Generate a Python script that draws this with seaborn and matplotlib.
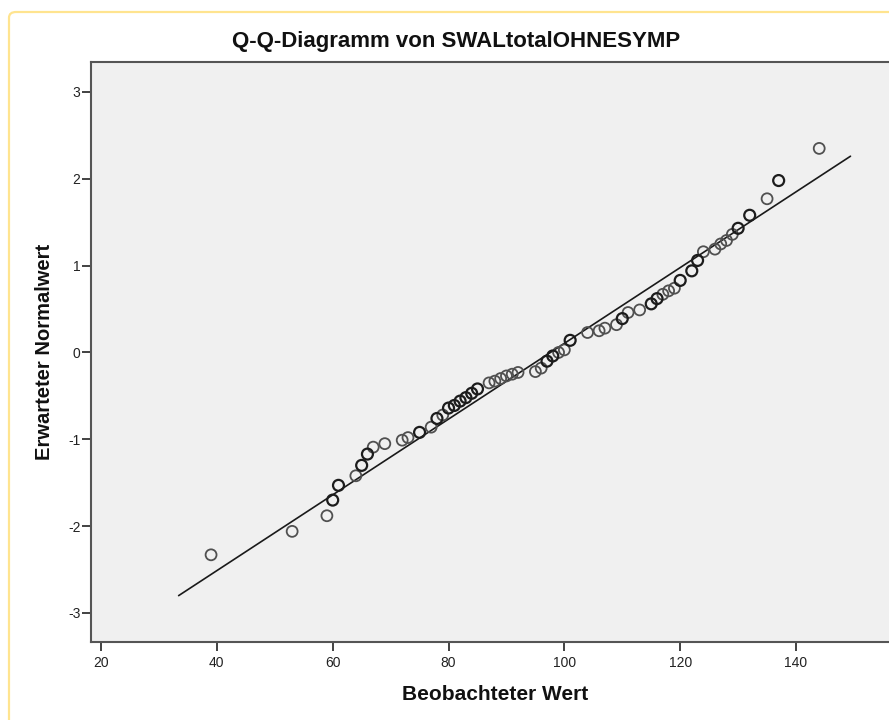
import matplotlib
matplotlib.use("Agg")
import matplotlib.pyplot as plt
import seaborn as sns
import pandas as pd
from matplotlib.patches import FancyBboxPatch

# ---- data ----
observed = [39, 53, 59, 60, 61, 64, 65, 66, 67, 69, 72, 73, 75, 77, 78, 79, 80, 81,
            82, 83, 84, 85, 87, 88, 89, 90, 91, 92, 95, 96, 97, 98, 99, 100, 101,
            104, 106, 107, 109, 110, 111, 113, 115, 116, 117, 118, 119, 120, 122,
            123, 124, 126, 127, 128, 129, 130, 132, 135, 137, 144]
expected = [-2.33, -2.06, -1.88, -1.70, -1.53, -1.42, -1.30, -1.17, -1.09, -1.05,
            -1.01, -0.98, -0.92, -0.86, -0.76, -0.72, -0.64, -0.61, -0.56, -0.52,
            -0.47, -0.42, -0.35, -0.33, -0.30, -0.27, -0.25, -0.23, -0.22, -0.18,
            -0.10, -0.04, 0.00, 0.03, 0.14, 0.23, 0.25, 0.28, 0.32, 0.39, 0.46,
            0.49, 0.56, 0.62, 0.67, 0.71, 0.74, 0.83, 0.94, 1.06, 1.16, 1.19, 1.25,
            1.29, 1.36, 1.43, 1.58, 1.77, 1.98, 2.35]
# number of tied cases (overplotted, darker circles)
counts = [1, 1, 1, 2, 2, 1, 2, 2, 1, 1, 1, 1, 2, 1, 2, 1, 2, 2, 2, 2, 2, 2, 1, 1,
          1, 1, 1, 1, 1, 1, 2, 2, 1, 1, 2, 1, 1, 1, 1, 2, 1, 1, 2, 2, 1, 1, 1, 2,
          2, 2, 1, 1, 1, 1, 1, 2, 2, 1, 2, 1]
line_x = [33.4, 149.4]
line_y = [-2.80, 2.26]

x_ticks = [20, 40, 60, 80, 100, 120, 140]
y_ticks = [-3, -2, -1, 0, 1, 2, 3]

title = "Q-Q-Diagramm von SWALtotalOHNESYMP"
xlabel = "Beobachteter Wert"
ylabel = "Erwarteter Normalwert"

df = pd.DataFrame({"obs": observed, "exp": expected, "n": counts})

sns.set_style("white")
plt.rcParams["font.family"] = ["Liberation Sans", "DejaVu Sans"]

fig = plt.figure(figsize=(8.89, 7.2), dpi=100)
fig.patch.set_facecolor("white")

# yellow frame of the output viewer
W, H = 889, 720
frame = FancyBboxPatch((9 / W, -0.2), 1.2, (H - 12) / H + 0.2,
                       boxstyle="round,pad=0,rounding_size=0.008",
                       transform=fig.transFigure, fill=False,
                       edgecolor="#FFE48F", linewidth=1.6, zorder=0)
fig.patches.append(frame)

ax = fig.add_axes([91 / W, (H - 642) / H, 809 / W, 580 / H])
ax.set_facecolor("#F0F0F0")

light = df[df["n"] == 1]
dark = df[df["n"] > 1]
sns.scatterplot(data=light, x="obs", y="exp", ax=ax, marker="o", s=62,
                facecolor="none", edgecolor="#505050", linewidth=1.3, zorder=3)
sns.scatterplot(data=dark, x="obs", y="exp", ax=ax, marker="o", s=62,
                facecolor="none", edgecolor="#1c1c1c", linewidth=1.6, zorder=3)
sns.lineplot(x=line_x, y=line_y, ax=ax, color="#1a1a1a", linewidth=1.2, zorder=2)

ax.set_xlim(18.27, 157.95)
ax.set_ylim(-3.334, 3.345)
ax.set_xticks(x_ticks)
ax.set_yticks(y_ticks)
ax.set_xticklabels([str(t) for t in x_ticks])
ax.set_yticklabels([str(t) for t in y_ticks])
ax.tick_params(axis="both", direction="out", length=6.5, width=1.3,
               color="#333333", labelsize=10, labelcolor="#222222")
ax.tick_params(axis="x", pad=3.5)
ax.tick_params(axis="y", pad=1)
ax.xaxis.set_ticks_position("bottom")
ax.yaxis.set_ticks_position("left")

for side in ["left", "bottom", "top"]:
    ax.spines[side].set_color("#555555")
    ax.spines[side].set_linewidth(1.5)
    ax.spines[side].set_visible(True)
ax.spines["right"].set_visible(False)

ax.set_xlabel(xlabel, fontsize=15, fontweight="bold", color="#111111", labelpad=11)
ax.set_ylabel(ylabel, fontsize=14.5, fontweight="bold", color="#111111", labelpad=10)
ax.grid(False)

fig.text(456 / W, (H - 42) / H, title, ha="center", va="center",
         fontsize=16, fontweight="bold", color="#111111")

fig.savefig("out.png", dpi=100)
